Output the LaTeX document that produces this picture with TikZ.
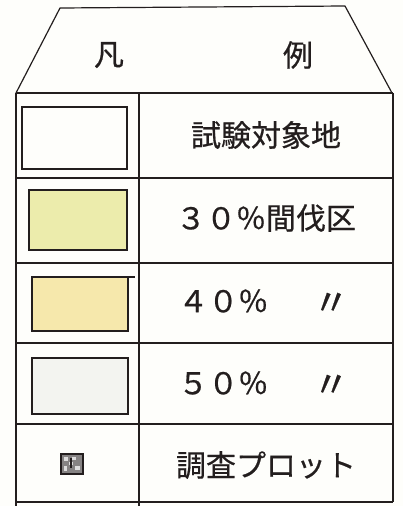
\documentclass[tikz,border=0pt]{standalone}
\usepackage{fontspec}
\newfontfamily\jp[FakeBold=0.6]{Noto Sans CJK JP}
\definecolor{ink}{RGB}{35,30,30}
\definecolor{paper}{RGB}{254,254,251}
\definecolor{fillA}{RGB}{236,236,172}
\definecolor{fillB}{RGB}{246,232,172}
\definecolor{fillC}{RGB}{243,244,240}
\tikzset{
  frame/.style={draw=ink, line width=1.2pt},
  swatch/.style={draw=ink, line width=2pt},
  label/.style={inner sep=0pt, font=\jp\fontsize{30}{30}\selectfont, text=ink},
  ditto/.style={inner sep=0pt, font=\jp\fontsize{36}{36}\selectfont, text=ink}
}
\begin{document}
\begin{tikzpicture}[x=1pt,y=-1pt]
\useasboundingbox[fill=paper] (0,0) rectangle (403,506);
% header trapezoid
\draw[frame, line join=round] (16,93) -- (60,8) -- (345,6) -- (392,93);
\node[label] (fan) at (109,55) {凡};
\node[label] (rei) at (298,55) {例};
% table frame
\draw[frame] (16,93) -- (393,93);
\draw[frame] (16,93) -- (16,506);
\draw[frame] (393,93) -- (393,502);
\draw[frame] (139,93) -- (139,506);
\draw[frame] (16,178) -- (393,178);
\draw[frame] (16,263) -- (393,263);
\draw[frame] (16,343) -- (393,343);
\draw[frame] (16,424) -- (393,424);
\draw[frame] (16,502) -- (393,502);
% swatches
\draw[swatch] (22,107) rectangle (127,169);
\draw[swatch, fill=fillA] (29,190) rectangle (127,250);
\draw[swatch, fill=fillB] (32,277) rectangle (128,331);
\draw[swatch] (128,277) -- (135,277);
\draw[swatch, fill=fillC] (32,358) rectangle (128,414);
% plot symbol
\draw[draw=ink, line width=2.6pt, fill=ink!55] (61,454) rectangle (83,474);
\fill[white!85!ink] (64,457) rectangle (68,461);
\fill[white!85!ink] (72,457) rectangle (76,460);
\fill[white!85!ink] (69,462) rectangle (73,465);
\fill[white!85!ink] (64,466) rectangle (67,471);
\fill[white!85!ink] (75,466) rectangle (80,470);
\fill[ink] (70,458) rectangle (72,468);
% labels
\node[label] (t1) at (266,135) {試験対象地};
\node[label] (t2) at (266,218) {３０％間伐区};
\node[label, anchor=west] (t3) at (178,301) {４０％};
\node[ditto] (d3) at (331,304) {〃};
\node[label, anchor=west] (t4) at (178,383) {５０％};
\node[ditto] (d4) at (331,386) {〃};
\node[label] (t5) at (266,465) {調査プロット};
\end{tikzpicture}
\end{document}
